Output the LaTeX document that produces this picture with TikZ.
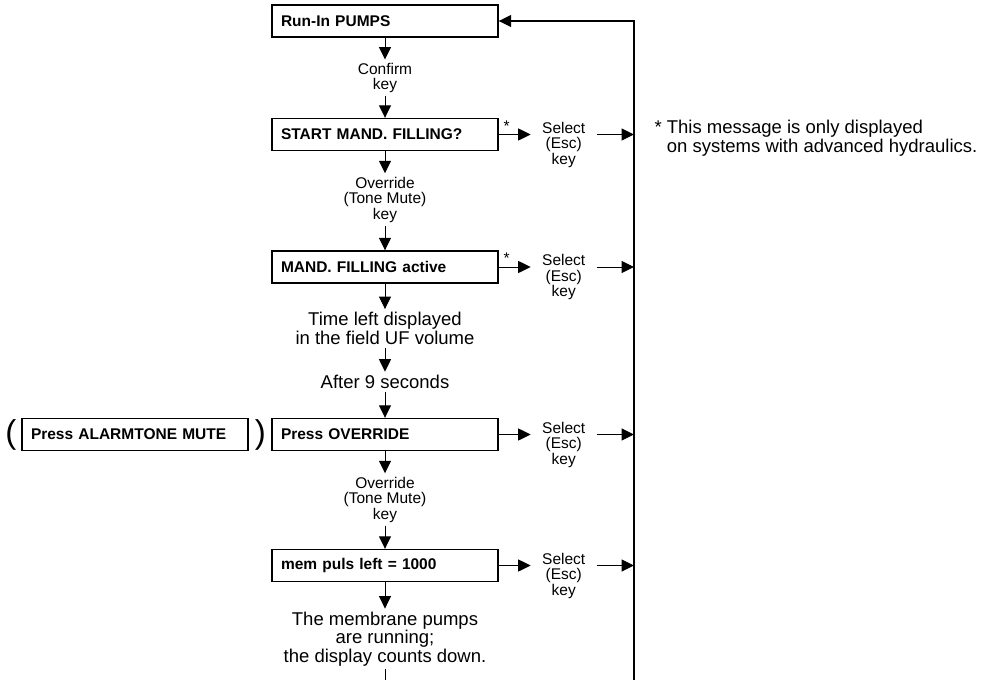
\documentclass[tikz,border=0pt]{standalone}
\usepackage{fontspec}
\setmainfont{Liberation Sans}
\usetikzlibrary{positioning, arrows.meta}

\begin{document}
\begin{tikzpicture}[
    x=1pt, y=-1pt, line width=1pt,
    >={Triangle[length=12.5pt, width=12pt]},
    every edge/.style={draw, line width=1pt},
    box/.style={draw, line width=1.4pt, text width=208pt, inner xsep=9pt,
        minimum height=32pt, align=left, font=\fontsize{15.5}{16}\selectfont\bfseries},
    keytext/.style={align=center, inner xsep=0pt, inner ysep=3pt,
        font=\fontsize{15.5}{15.5}\selectfont},
    esctext/.style={keytext, inner xsep=11pt, inner ysep=0pt},
    infotext/.style={align=center, inner xsep=0pt, inner ysep=3pt,
        font=\fontsize{18.5}{18.3}\selectfont},
    paren/.style={inner sep=0pt, font=\fontsize{33}{33}\selectfont}
]
    \useasboundingbox (0,0) rectangle (997,680);

    % main column
    \node[box]      (run)     at (385,21)    {Run-In PUMPS};
    \node[keytext]  (confirm) at (385,78)    {Confirm\\key};
    \node[box]      (start)   at (385,134.5) {START MAND. FILLING?};
    \node[keytext]  (ovr1)    at (385,199.5) {Override\\(Tone Mute)\\key};
    \node[box]      (active)  at (385,267)   {MAND. FILLING active};
    \node[infotext] (time)    at (385,328.5) {Time left displayed\\in the field UF volume};
    \node[infotext] (after)   at (385,382)   {After 9 seconds};
    \node[box]      (press)   at (385,434.5) {Press OVERRIDE};
    \node[keytext]  (ovr2)    at (385,499.5) {Override\\(Tone Mute)\\key};
    \node[box]      (mem)     at (385,565.5) {mem puls left = 1000};
    \node[infotext] (pumps)   at (385,639)   {The membrane pumps\\are running;\\the display counts down.};
    \coordinate (out) at (385,680);

    % alternative key
    \node[box] (mute) at (135,434.5) {Press ALARMTONE MUTE};
    \node[paren, left=4.5pt of mute]  (lpar) {(};
    \node[paren, right=5.7pt of mute] (rpar) {)};

    % escape side
    \node[esctext, right=32pt of start,  yshift=-10pt] (esc1) {Select\\(Esc)\\key};
    \node[esctext, right=32pt of active, yshift=-10pt] (esc2) {Select\\(Esc)\\key};
    \node[esctext, right=32pt of press,  yshift=-10pt] (esc3) {Select\\(Esc)\\key};
    \node[esctext, right=32pt of mem,    yshift=-10pt] (esc4) {Select\\(Esc)\\key};
    \node[keytext, inner sep=0pt, above right=2.8pt and 4.5pt of start.east]  (star1) {*};
    \node[keytext, inner sep=0pt, above right=2.8pt and 4.5pt of active.east] (star2) {*};
    \coordinate (ret)    at (634,21);
    \coordinate (retend) at (634,680);

    % footnote
    \node[anchor=north west, align=left, inner sep=0pt,
        font=\fontsize{18.5}{14.5}\selectfont] (note) at (654,120)
        {*~This message is only displayed\\\hphantom{*~}on systems with advanced hydraulics.};

    \path[->]
        (run)     edge (confirm)
        (confirm) edge (start)
        (start)   edge (ovr1)
        (ovr1)    edge (active)
        (active)  edge (time)
        (time)    edge (after)
        (after)   edge (press)
        (press)   edge (ovr2)
        (ovr2)    edge (mem)
        (mem)     edge (pumps);
    \draw (pumps) -- (out);

    \foreach \b/\e in {start/esc1, active/esc2, press/esc3, mem/esc4} {
        \draw[->] (\b) -- (\e.west |- \b);
        \draw[->] (\e.east |- \b) -- (ret |- \b);
    }
    \draw[->, line width=1.2pt] (retend) -- (ret) -- (run);
\end{tikzpicture}
\end{document}
